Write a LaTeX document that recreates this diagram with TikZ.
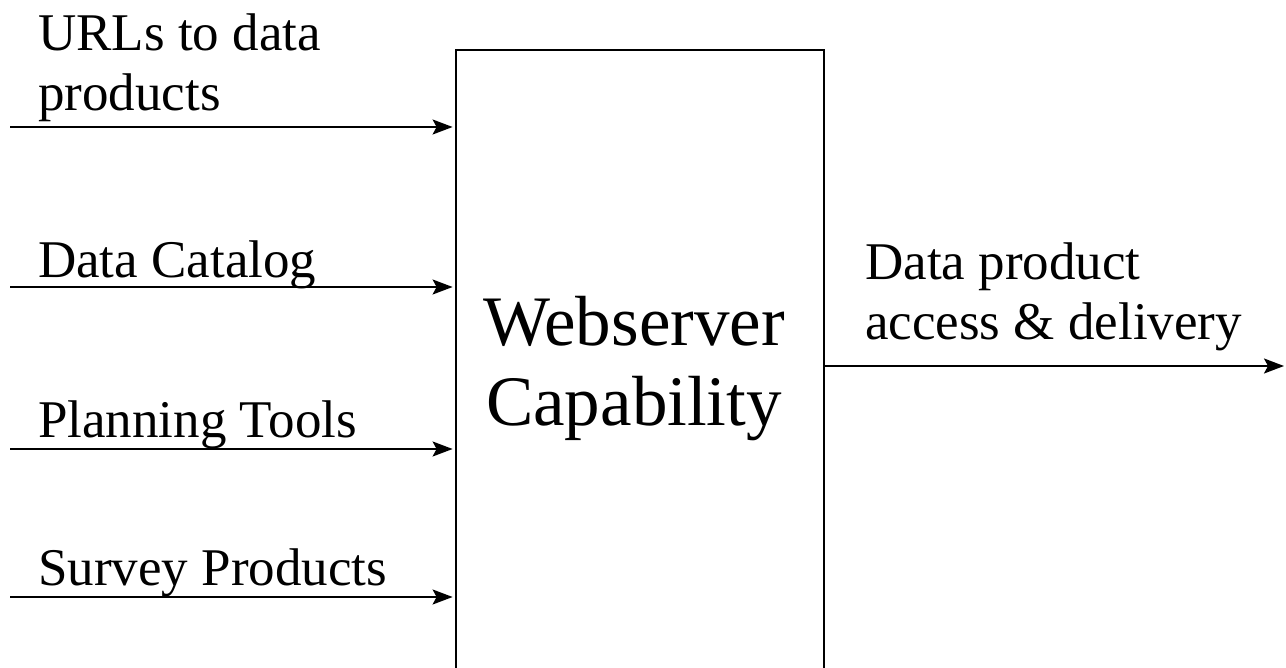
\documentclass[tikz,border=0pt]{standalone}
\usepackage{fontspec}
\setmainfont{Liberation Serif}
\usetikzlibrary{arrows.meta}
\begin{document}
\begin{tikzpicture}[x=1pt,y=-1pt,
  lbl/.style={anchor=base west,inner sep=0pt,font=\fontsize{53pt}{60pt}\selectfont,align=left},
  flow/.style={line width=2pt,-{Stealth[length=20pt,width=15pt,inset=4pt]}},
  sysbox/.style={draw,line width=2.8pt,rectangle,minimum width=368pt,minimum height=640pt,inner sep=0pt}]
\useasboundingbox (0,0) rectangle (1286,668);
\clip (0,0) rectangle (1286,668);
% central system block (runs off the lower edge)
\node[sysbox] (box) at (640,370) {};
% multi-line nodes: the base anchor sits on the last line
\node[inner sep=0pt,align=center,font=\fontsize{71pt}{80pt}\selectfont,anchor=base] (title) at (634,425) {Webserver\\Capability};
% input labels
\node[lbl] (l1) at (38,111) {URLs to data\\products};
\node[lbl] (l2) at (38,278) {Data Catalog};
\node[lbl] (l3) at (38,438) {Planning Tools};
\node[lbl] (l4) at (38,585) {Survey Products};
\node[lbl] (lo) at (865,340) {Data product\\access \& delivery};
% free ends of the lines
\coordinate (s1) at (10,127);
\coordinate (s2) at (10,287);
\coordinate (s3) at (10,449);
\coordinate (s4) at (10,597);
\coordinate (o1) at (1284,366);
\foreach \s in {s1,s2,s3,s4}
  \draw[flow] (\s) -- ([xshift=-2pt]\s -| box.west);
\draw[flow] (o1 -| box.east) -- (o1);
\end{tikzpicture}
\end{document}
